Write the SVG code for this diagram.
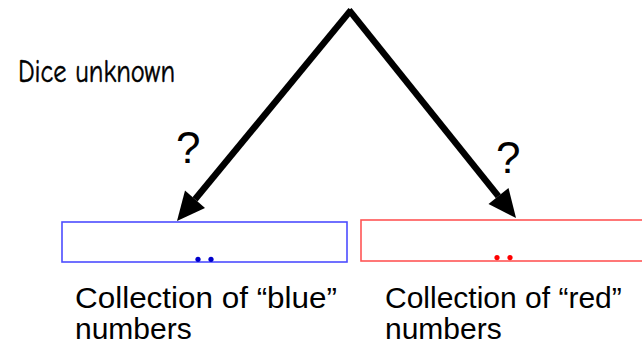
<svg xmlns="http://www.w3.org/2000/svg" width="642" height="347" viewBox="0 0 642 347">
<style>
.lbl{font-family:"Liberation Sans",Arial,sans-serif;font-size:30px;fill:#000}
.q{font-family:"Liberation Sans",Arial,sans-serif;font-size:44px;fill:#000}
.hand{font-family:"Comic Neue","DejaVu Sans",sans-serif;font-size:32px;fill:#000;stroke:#000;stroke-width:0.5}
.conn{stroke:#000;stroke-width:6.5;fill:none;stroke-linecap:butt}
</style>
<rect width="642" height="347" fill="#fff"/>
<text class="hand" x="18" y="82" textLength="157" lengthAdjust="spacingAndGlyphs">Dice unknown</text>
<g id="connectors">
<path class="conn" d="M351,10 L195,199.4"/>
<polygon points="177,221 205,208 185,190.5" fill="#000"/>
<path class="conn" d="M349,10 L498.4,196.2"/>
<polygon points="516,218 508.5,188 488.5,204" fill="#000"/>
<text class="q" x="176" y="163">?</text>
<text class="q" x="496" y="173">?</text>
</g>
<g id="blue">
<rect x="62" y="222" width="285" height="40" fill="none" stroke="#4d4dff" stroke-width="1.6"/>
<circle cx="198" cy="259.3" r="2.6" fill="#0000cc"/>
<circle cx="211" cy="259.3" r="2.6" fill="#0000cc"/>
<text class="lbl" x="75" y="308" textLength="262" lengthAdjust="spacingAndGlyphs">Collection of “blue”</text>
<text class="lbl" x="75" y="339">numbers</text>
</g>
<g id="red">
<rect x="361" y="220" width="290" height="41" fill="none" stroke="#ff5555" stroke-width="1.6"/>
<circle cx="497" cy="257.6" r="2.6" fill="#ff0000"/>
<circle cx="510" cy="257.6" r="2.6" fill="#ff0000"/>
<text class="lbl" x="385" y="308">Collection of “red”</text>
<text class="lbl" x="385" y="339">numbers</text>
</g>
</svg>
